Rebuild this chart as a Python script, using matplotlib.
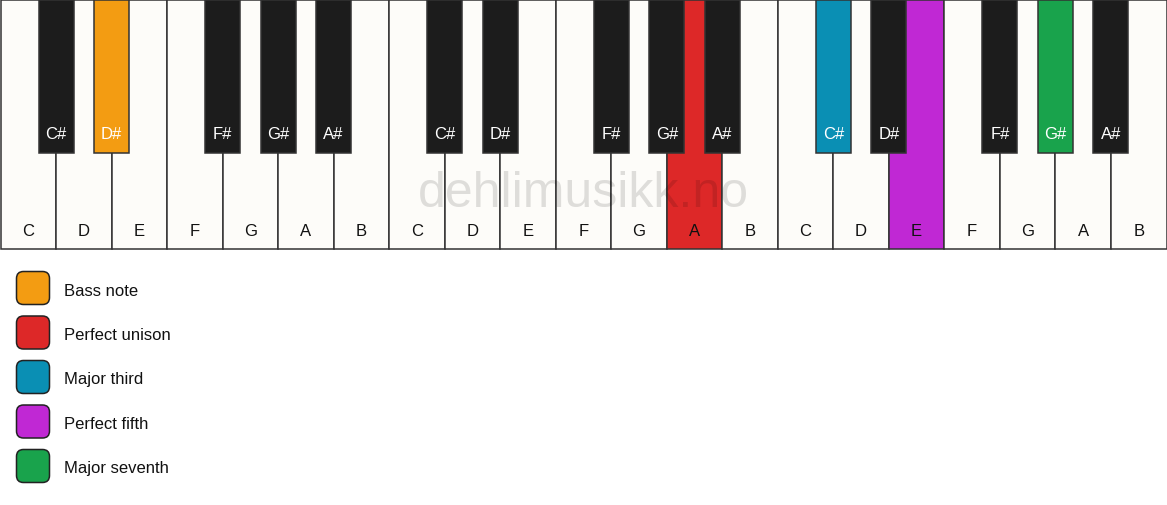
import matplotlib
matplotlib.use('Agg')
import matplotlib.pyplot as plt
from matplotlib.patches import Rectangle, FancyBboxPatch

plt.rcParams['font.family'] = ['Liberation Sans', 'DejaVu Sans']

# keyboard: three octaves
white_notes = ['C', 'D', 'E', 'F', 'G', 'A', 'B'] * 3
black_after = {'C': 'C#', 'D': 'D#', 'F': 'F#', 'G': 'G#', 'A': 'A#'}

# highlighted keys: (white key index, is_black) -> colour
highlights = {
    (1, True): '#f39c12',   # D# bass note
    (12, False): '#dd2828', # A perfect unison
    (14, True): '#0a8fb4',  # C# major third
    (16, False): '#c028d4', # E perfect fifth
    (18, True): '#19a34c',  # G# major seventh
}

legend_labels = ['Bass note', 'Perfect unison', 'Major third', 'Perfect fifth', 'Major seventh']
legend_colors = ['#f39c12', '#dd2828', '#0a8fb4', '#c028d4', '#19a34c']

W, H = 1167, 506
fig = plt.figure(figsize=(W / 100, H / 100), dpi=100)
ax = fig.add_axes([0, 0, 1, 1])
ax.set_xlim(0, W)
ax.set_ylim(H, 0)
ax.axis('off')

ww = (W - 1) / len(white_notes)
wh = 249.5
bw = 35
bh = 153
edge = '#333333'
lw = 1.1
fs = 12

# white keys
for i, n in enumerate(white_notes):
    c = highlights.get((i, False), '#fdfcf9')
    ax.add_patch(Rectangle((0.5 + i * ww, 0.5), ww, wh, facecolor=c, edgecolor=edge, lw=lw, zorder=1))
    ax.text(0.5 + (i + 0.5) * ww, 236, n, ha='center', va='baseline', fontsize=fs, color='#111111', zorder=2)

# watermark (sits under the black keys)
ax.text(583, 207, 'dehlimusikk.no', ha='center', va='baseline', fontsize=36,
        color='black', alpha=0.12, zorder=3)

# black keys
for i, n in enumerate(white_notes):
    if n in black_after and i < len(white_notes) - 1:
        x = 0.5 + (i + 1) * ww
        c = highlights.get((i, True), '#1c1c1c')
        ax.add_patch(Rectangle((x - bw / 2, 0.5), bw, bh, facecolor=c, edgecolor=edge, lw=lw, zorder=4))
        ax.text(x, 139, black_after[n], ha='center', va='baseline', fontsize=fs, color='white', zorder=5)

# legend
for k, (lab, col) in enumerate(zip(legend_labels, legend_colors)):
    yc = 289 + k * 44.5
    ax.add_patch(FancyBboxPatch((16.5, yc - 16.5), 33, 33, boxstyle='round,pad=0,rounding_size=7',
                                facecolor=col, edgecolor='#222222', lw=1.1, zorder=2))
    ax.text(64, yc + 6.5, lab, ha='left', va='baseline', fontsize=fs, color='#111111')

fig.savefig('out.png', dpi=100, facecolor='white')
